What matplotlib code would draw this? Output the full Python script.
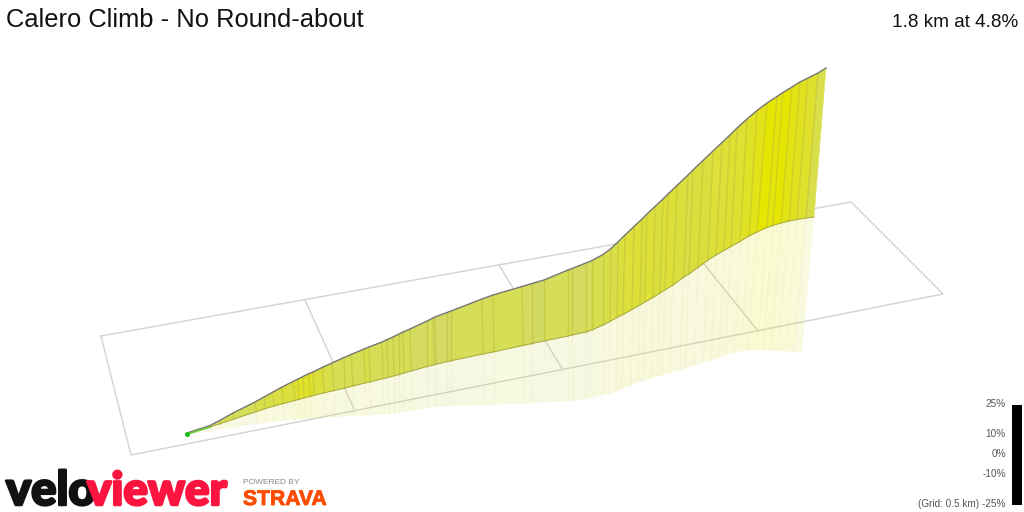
import matplotlib
matplotlib.use("Agg")
import matplotlib.pyplot as plt
import matplotlib.patheffects as pe
from matplotlib.colors import LinearSegmentedColormap, Normalize
from matplotlib.patches import Rectangle

plt.rcParams['font.family'] = ['Liberation Sans', 'DejaVu Sans']

title = "Calero Climb - No Round-about"
summary = "1.8 km at 4.8%"

# wall stations, screen pixels: top edge, foot of the wall, reflection edge
top_x = [187, 210, 220, 233, 255, 264, 273, 282, 293, 298, 303, 309, 313, 323, 332, 344, 351, 364, 369, 382, 387, 393,
         399, 403, 410, 427, 433, 435, 447, 451, 482, 493, 522, 532, 544, 568, 572, 586, 592, 603, 611, 618, 625, 634,
         642, 647, 655, 663, 668, 677, 688, 693, 703, 713, 722, 730, 737, 747, 757, 767, 777, 783, 792, 800, 808, 818, 826]
top_y = [433, 425.5, 420.3, 413, 402, 397, 392, 387, 381.5, 379, 376.5, 373.5, 372, 367, 363, 357.5, 354.5, 349, 347, 342,
         339.6, 337, 334, 332, 329, 321, 318, 317, 312.5, 311, 299, 295, 286.5, 283.5, 280, 270, 268.5, 263, 260.5, 254.5,
         248.5, 242, 235, 226.5, 219, 214, 206.5, 199, 194, 185.5, 175, 170, 160.5, 151, 142.5, 135, 128, 119, 110.5, 103,
         96.5, 92.5, 87, 82, 78, 73, 68]
base_x = [187, 210, 220, 234, 256, 265, 274, 283, 295, 299, 304, 310, 314, 324, 334, 345, 353, 365, 370, 383, 388, 394,
          399, 404, 411, 427, 434, 436, 447, 451, 483, 494, 523, 532, 544, 568, 572, 586, 592, 603, 610, 617, 623, 632,
          640, 645, 653, 660, 665, 673, 684, 689, 698, 708, 716, 724, 731, 740, 749, 757, 767, 773, 781, 789, 797, 806, 814]
base_y = [434, 427, 423.7, 419, 411.7, 408.7, 406, 403.7, 400.5, 399.4, 398, 396.5, 395.4, 392.8, 390.6, 388, 386, 383,
          382, 378.7, 377.5, 375.9, 374.5, 373, 371, 366.5, 364.8, 364.3, 361.6, 360.8, 354, 351.8, 345.5, 343.5, 341,
          336, 335, 332, 330, 325, 321.5, 317.5, 314.5, 309.5, 305, 302, 297.5, 293, 290, 285, 277, 274, 267.5, 260, 255,
          250.5, 246.5, 241.5, 236, 232, 227.5, 225.5, 223, 221, 219.5, 218, 217]
refl_x = [187, 210, 220, 234, 256, 265, 274, 283, 295, 299, 304, 310, 314, 325, 335, 346, 353, 366, 371, 384, 389, 394,
          400, 404, 411, 428, 434, 436, 448, 451, 483, 494, 523, 533, 544, 569, 573, 586, 592, 603, 609, 616, 622, 631,
          638, 643, 651, 657, 662, 670, 680, 685, 694, 703, 711, 719, 725, 734, 741, 748, 757, 763, 771, 778, 786, 794, 802]
refl_y = [435, 431, 429.6, 427.6, 424, 422.5, 421.5, 420.5, 419.5, 419.2, 418.9, 418.5, 418.2, 417.6, 417, 416.4, 416,
          415.4, 415.2, 414.4, 414, 413.3, 412.5, 412, 411, 408, 407.2, 407, 406, 405.9, 405, 404.7, 403.7, 403.2, 402.5,
          401, 400.7, 398.7, 397.5, 395, 393.5, 391.5, 389, 385.5, 382.5, 381, 378.5, 376.7, 375, 373, 370, 368.5, 365.5,
          362.5, 360, 357.5, 355.5, 353, 351, 350, 350, 350.2, 350.6, 351, 351.3, 351.7, 352]

# gradient (%) of each strip between two stations
grades = [2, 4, 5, 4.5, 6, 6, 6.5, 7, 8, 9, 8.5, 9, 7, 6, 5, 5.5, 5, 6, 5, 5, 5, 5, 5, 5, 4, 4.5, 3.5, 3.5, 4, 4.5, 4.5,
          5, 4, 3.5, 4.5, 5, 4, 4.5, 5.5, 6, 6, 7, 7.5, 7.5, 7, 7.5, 7, 7.5, 7.5, 7, 6.5, 7, 7, 7.5, 7.5, 8, 8, 9, 10,
          12, 11, 12, 10.5, 9.5, 8.5, 6]

# ground grid, screen pixels
grid_x = [[101, 851, 943, 131, 101], [305, 354], [499, 563], [679, 758]]
grid_y = [[336, 202, 294, 455, 336], [300, 409], [265, 370], [233, 331]]

scale_labels = ["25%", "10%", "0%", "-10%", "(Grid: 0.5 km) -25%"]
scale_y = [404, 434, 454, 474, 504]

fig = plt.figure(figsize=(10.24, 5.12), dpi=100)
ax = fig.add_axes([0, 0, 1, 1])
ax.set_xlim(0, 1024)
ax.set_ylim(512, 0)
ax.axis("off")

cmap = LinearSegmentedColormap.from_list("grade", [(0.0, "#d0d670"), (0.3, "#d6de55"), (0.6, "#dee032"), (1.0, "#e6e600")])
norm = Normalize(2, 12)

for gx, gy in zip(grid_x, grid_y):
    ax.plot(gx, gy, color="#d2d2d2", lw=1.0, zorder=1, solid_joinstyle="miter")

for i, g in enumerate(grades):
    c = cmap(norm(g))
    ax.fill([base_x[i], base_x[i + 1], refl_x[i + 1], refl_x[i]],
            [base_y[i], base_y[i + 1], refl_y[i + 1], refl_y[i]],
            color=c, alpha=0.18, lw=0, zorder=2)
    ax.plot([base_x[i], refl_x[i]], [base_y[i], refl_y[i]], color="#c8c880", alpha=0.08, lw=1, zorder=2)
    ax.fill([top_x[i], top_x[i + 1], base_x[i + 1], base_x[i]],
            [top_y[i], top_y[i + 1], base_y[i + 1], base_y[i]],
            facecolor=c, edgecolor=c, lw=0.3, zorder=3)
    if i > 0:
        ax.plot([top_x[i], base_x[i]], [top_y[i], base_y[i]], color="#b8b030", alpha=0.4, lw=1, zorder=4)

ax.plot(base_x, base_y, color="#a8a840", lw=0.7, zorder=5)
ax.plot(top_x, top_y, color="#777777", lw=1.0, zorder=6)
ax.plot(top_x[:2], base_y[:2], color="#66cc33", lw=1.2, zorder=7)
ax.scatter(top_x[:1], base_y[:1], s=7, color="#22bb22", zorder=8)

ax.text(6, 27, title, fontsize=18.4, color="#111111", ha="left", va="baseline")
ax.text(1018, 27, summary, fontsize=13.65, color="#111111", ha="right", va="baseline")

ax.add_patch(Rectangle((1012, 405), 10, 100, color="black", lw=0))
for lab, y in zip(scale_labels, scale_y):
    ax.text(1006, y, lab, fontsize=7.2, color="#555555", ha="right", va="center")

ax.text(6, 505, "velo", fontsize=34, family=["Lato", "DejaVu Sans"], weight="black", color="#111111", ha="left", va="baseline",
        path_effects=[pe.withStroke(linewidth=1.8, foreground="#111111")])
ax.text(87, 505, "viewer", fontsize=33, family=["Lato", "DejaVu Sans"], weight="black", color="#fc1440", ha="left", va="baseline",
        path_effects=[pe.withStroke(linewidth=1.8, foreground="#fc1440")])
ax.text(243, 484, "POWERED BY", fontsize=6, color="#888888", ha="left", va="baseline")
ax.text(243, 505, "STRAVA", fontsize=15.2, weight="bold", color="#fc4c02", ha="left", va="baseline",
        path_effects=[pe.withStroke(linewidth=0.6, foreground="#fc4c02")])

fig.savefig("out.png", dpi=100)
